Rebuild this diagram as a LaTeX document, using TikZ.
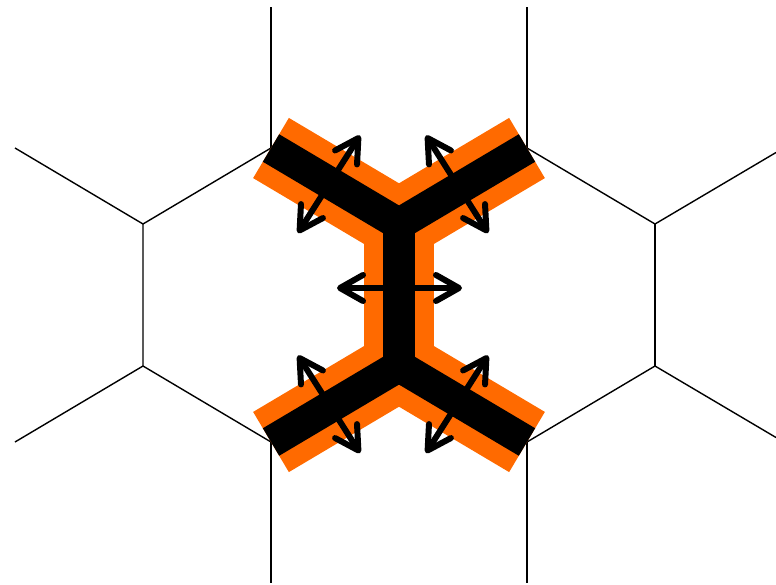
\documentclass[tikz,border=0pt]{standalone}
\usetikzlibrary{arrows.meta}
\definecolor{hiorange}{RGB}{255,106,0}
\begin{document}
\begin{tikzpicture}[x=1pt,y=-1pt,
  grid/.style={line width=1.4pt, black},
  band/.style={line width=70pt, hiorange, line join=miter, line cap=butt},
  core/.style={line width=32pt, black, line join=miter, line cap=butt},
  flux/.style={line width=6pt, line cap=round,
    {Straight Barb[length=23pt,width=26pt,line cap=round,line join=round]}-{Straight Barb[length=23pt,width=26pt,line cap=round,line join=round]}}]
\useasboundingbox (0,0) rectangle (776,584);
% hexagon vertices
\coordinate (A1) at (271,7);
\coordinate (A2) at (527,7);
\coordinate (V1) at (271,148);
\coordinate (V2) at (527,148);
\coordinate (L1) at (15,148);
\coordinate (L2) at (143,224);
\coordinate (L3) at (143,366);
\coordinate (L4) at (15,442);
\coordinate (C1) at (399,224);
\coordinate (C2) at (399,366);
\coordinate (V3) at (271,442);
\coordinate (V4) at (527,442);
\coordinate (R1) at (655,224);
\coordinate (R2) at (776,152.5);
\coordinate (R3) at (655,366);
\coordinate (R4) at (776,437.5);
\coordinate (B1) at (271,583);
\coordinate (B2) at (527,583);
% thin grid
\draw[grid] (A1) -- (V1);
\draw[grid] (A2) -- (V2);
\draw[grid] (L1) -- (L2) -- (L3) -- (L4);
\draw[grid] (L2) -- (V1) -- (C1) -- (V2) -- (R1) -- (R2);
\draw[grid] (L3) -- (V3) -- (C2) -- (V4) -- (R3) -- (R4);
\draw[grid] (R1) -- (R3);
\draw[grid] (C1) -- (C2);
\draw[grid] (V3) -- (B1);
\draw[grid] (V4) -- (B2);
% highlighted edges
\draw[band] (V1) -- (C1) -- (V2);
\draw[band] (V3) -- (C2) -- (V4);
\draw[band] (C1) -- (C2);
\draw[core] (V1) -- (C1) -- (V2);
\draw[core] (V3) -- (C2) -- (V4);
\draw[core] (C1) -- (C2);
% arrows
\coordinate (h1) at (337,288);
\coordinate (h2) at (462,288);
\coordinate (ul1) at (360,135.5);
\coordinate (ul2) at (298,233);
\coordinate (ur1) at (426,135.5);
\coordinate (ur2) at (488,233);
\coordinate (ll1) at (298,355.5);
\coordinate (ll2) at (360,453);
\coordinate (lr1) at (488,355.5);
\coordinate (lr2) at (426,453);
\draw[flux] (h1) -- (h2);
\draw[flux] (ul1) -- (ul2);
\draw[flux] (ur1) -- (ur2);
\draw[flux] (ll1) -- (ll2);
\draw[flux] (lr1) -- (lr2);
\end{tikzpicture}
\end{document}
